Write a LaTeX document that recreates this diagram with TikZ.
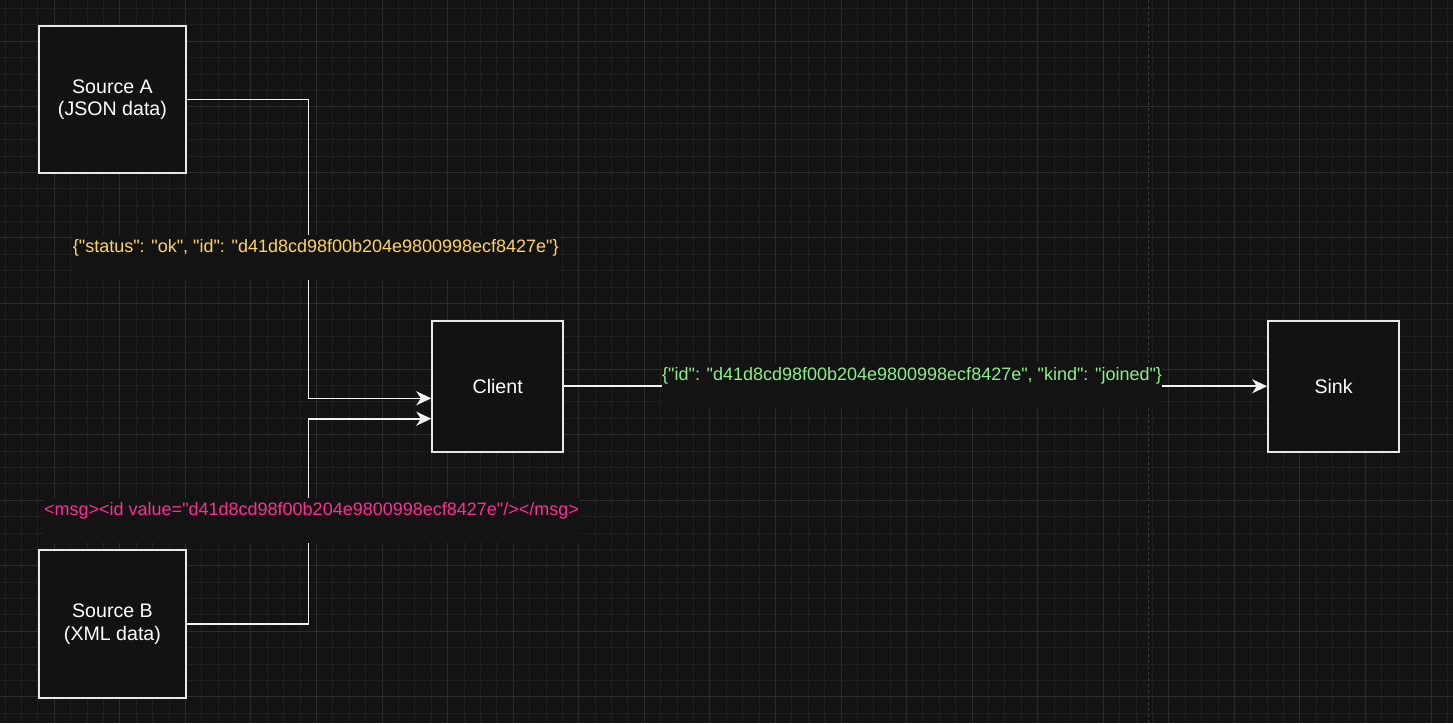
\documentclass[tikz,border=0pt]{standalone}
\usepackage{fontspec}
\setmainfont{Liberation Sans}[Ligatures=TeXOff]
\usetikzlibrary{arrows.meta}
\definecolor{bg}{HTML}{131313}
\definecolor{minorgrid}{HTML}{1F1F1F}
\definecolor{majorgrid}{HTML}{2C2C2C}
\definecolor{boxline}{HTML}{E8E8E8}
\definecolor{boxfill}{HTML}{121212}
\definecolor{wire}{HTML}{F2F2F2}
\definecolor{jsonyellow}{HTML}{FFD65C}
\definecolor{xmlpink}{HTML}{FF2E93}
\definecolor{joingreen}{HTML}{8CEF8C}
\definecolor{pagebreak}{HTML}{3A3A3A}
\begin{document}
\begin{tikzpicture}[x=1pt,y=-1pt,
  mingrid/.style={draw=minorgrid, line width=1pt},
  majgrid/.style={draw=majorgrid, line width=1pt},
  pageline/.style={draw=pagebreak, line width=1.5pt, dash pattern=on 3pt off 3pt},
  box/.style={draw=boxline, line width=1.6pt, fill=boxfill, inner sep=0pt,
    text=white, align=center, anchor=north west,
    font=\fontsize{19.6}{22.5}\selectfont},
  bigbox/.style={box, minimum width=147.5pt, minimum height=147.5pt},
  smallbox/.style={box, minimum width=131.1pt, minimum height=131.1pt},
  conn/.style={draw=wire, line width=1.6pt},
  arr/.style={conn, -{Stealth[length=15pt,width=14pt,inset=4.5pt]}},
  lbl/.style={fill=bg, inner xsep=0pt, inner ysep=0pt, anchor=base west,
    text height=17.4pt, text depth=27.6pt,
    font=\fontsize{18}{21.6}\selectfont}
]
\useasboundingbox (0,0) rectangle (1453,723);
\fill[bg] (0,0) rectangle (1453,723);
% grid
\foreach \k in {-3,...,85}{
  \pgfmathsetmacro\xx{54.3+\k*16.39}
  \draw[mingrid] (\xx,0) -- (\xx,723);
}
\foreach \k in {-2,...,41}{
  \pgfmathsetmacro\yy{41.3+\k*16.39}
  \draw[mingrid] (0,\yy) -- (1453,\yy);
}
\foreach \k in {0,...,21}{
  \pgfmathsetmacro\xx{54.3+\k*65.56}
  \draw[majgrid] (\xx,0) -- (\xx,723);
}
\foreach \k in {0,...,10}{
  \pgfmathsetmacro\yy{41.3+\k*65.56}
  \draw[majgrid] (0,\yy) -- (1453,\yy);
}
\draw[pageline] (1148.3,0) -- (1148.3,723);

% boxes (positions)
\node[bigbox] (A) at (37.9,24.9) {Source A\\(JSON data)};
\node[bigbox] (B) at (37.9,549.4) {Source B\\(XML data)};
\node[smallbox] (C) at (431.3,319.9) {Client};
\node[smallbox] (S) at (1267.2,319.9) {Sink};

% connectors
\coordinate (ja) at (308.3,398.3);
\coordinate (jb) at (308.3,418.7);
\draw[arr] (A.east) -| (ja) -- (ja -| C.west);
\draw[arr] (B.east) -| (jb) -- (jb -| C.west);
\draw[arr] (C.east) -- (S.west);

% labels
\node[lbl, text=jsonyellow] (la) at (72.7,252.4)
  {\{"status": "ok", "id": "d41d8cd98f00b204e9800998ecf8427e"\}};
\node[lbl, text=xmlpink] (lb) at (44,515.4)
  {<msg><id value="d41d8cd98f00b204e9800998ecf8427e"/></msg>};
\node[lbl, text=joingreen] (lc) at (662,380.4)
  {\{"id": "d41d8cd98f00b204e9800998ecf8427e", "kind": "joined"\}};

% redraw boxes on top of connector ends
\node[bigbox] at (A.north west) {Source A\\(JSON data)};
\node[bigbox] at (B.north west) {Source B\\(XML data)};
\node[smallbox] at (C.north west) {Client};
\node[smallbox] at (S.north west) {Sink};
\end{tikzpicture}
\end{document}
